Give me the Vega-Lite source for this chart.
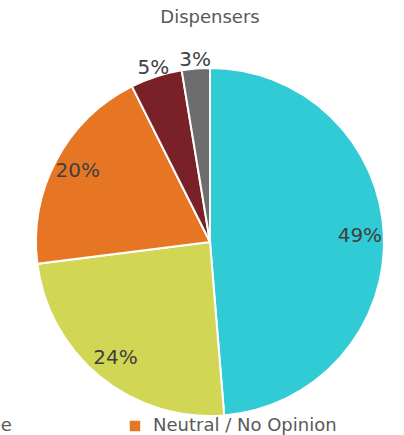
{
  "$schema": "https://vega.github.io/schema/vega-lite/v6.json",
  "width": 388,
  "height": 386,
  "autosize": {"type": "none"},
  "padding": {"left": 16, "top": 49, "right": 0, "bottom": 0},
  "background": "white",
  "title": {"text": "Dispensers", "fontSize": 18, "font": "DejaVu Sans", "fontWeight": "normal", "color": "#595959", "offset": 22, "anchor": "middle"},
  "data": {
    "values": [
      {"idx": 1, "response": "Strongly Agree", "pct": 0.487},
      {"idx": 2, "response": "Agree", "pct": 0.243},
      {"idx": 3, "response": "Neutral / No Opinion", "pct": 0.196},
      {"idx": 4, "response": "Disagree", "pct": 0.048},
      {"idx": 5, "response": "Strongly Disagree", "pct": 0.026}
    ]
  },
  "encoding": {
    "theta": {"field": "pct", "type": "quantitative", "stack": true},
    "order": {"field": "idx", "type": "quantitative"}
  },
  "layer": [
    {
      "mark": {"type": "arc", "outerRadius": 174, "stroke": "white", "strokeWidth": 2},
      "encoding": {
        "color": {
          "field": "response",
          "type": "nominal",
          "scale": {
            "domain": ["Strongly Agree", "Agree", "Neutral / No Opinion", "Disagree", "Strongly Disagree"],
            "range": ["#30CBD5", "#D2D655", "#E67624", "#7A2127", "#6D6D6D"]
          },
          "legend": {
            "orient": "none",
            "legendX": -84,
            "legendY": 368,
            "direction": "horizontal",
            "values": ["Agree", "Neutral / No Opinion", "Disagree", "Strongly Disagree"],
            "title": null,
            "symbolType": "square",
            "symbolSize": 110,
            "symbolStrokeWidth": 0,
            "labelFontSize": 18,
            "labelFont": "DejaVu Sans",
            "labelColor": "#595959",
            "labelLimit": 0,
            "columnPadding": 114,
            "labelOffset": 9
          }
        }
      }
    },
    {
      "mark": {"type": "text", "radius": 150, "fontSize": 20, "font": "DejaVu Sans"},
      "encoding": {
        "color": {"value": "#404040"},
        "text": {"condition": {"test": "datum.pct >= 0.1", "field": "pct", "type": "quantitative", "format": ".0%"}, "value": ""}
      }
    },
    {
      "mark": {"type": "text", "radius": 183, "fontSize": 20, "font": "DejaVu Sans"},
      "encoding": {
        "color": {"value": "#404040"},
        "text": {"condition": {"test": "datum.pct < 0.1", "field": "pct", "type": "quantitative", "format": ".0%"}, "value": ""}
      }
    }
  ],
  "config": {"view": {"stroke": null}}
}
